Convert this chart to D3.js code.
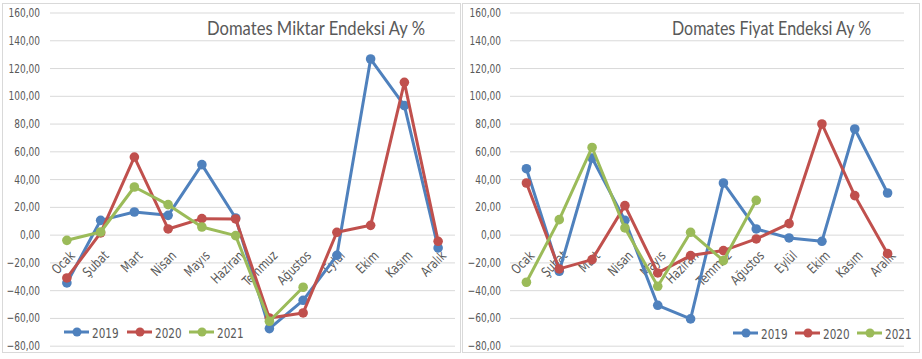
<!DOCTYPE html>
<html><head><meta charset="utf-8">
<script src="https://cdn.jsdelivr.net/npm/d3@7"></script>
<style>
html,body{margin:0;padding:0;background:#fff;}
svg{display:block;}
text{font-family:"DejaVu Sans Condensed","DejaVu Sans",sans-serif;fill:#595959;}
</style></head>
<body>
<svg id="chart" width="922" height="359"></svg>
<script>
const months = ["Ocak","Şubat","Mart","Nisan","Mayıs","Haziran","Temmuz","Ağustos","Eylül","Ekim","Kasım","Aralık"];
const yTicks = [160,140,120,100,80,60,40,20,0,-20,-40,-60,-80];
const years = ["2019","2020","2021"];
const colors = ["#4F81BD","#C0504D","#9BBB59"];

const miktar2019 = [-34.8,10.3,16.3,13.9,50.4,12.0,-67.7,-47.3,-14.9,126.5,92.9,-9.6];
const miktar2020 = [-31.2,1.2,55.9,4.1,11.5,11.3,-60.0,-56.4,1.7,6.7,109.7,-4.8];
const miktar2021 = [-4.1,1.9,34.3,21.6,5.5,-0.7,-62.4,-37.9];

const fiyat2019 = [47.5,-26.4,55.2,10.3,-50.9,-60.7,37.2,4.1,-2.4,-4.8,76.1,30.0];
const fiyat2020 = [37.2,-24.7,-18.0,20.9,-27.6,-15.1,-11.5,-3.1,7.9,79.7,28.1,-13.7];
const fiyat2021 = [-34.3,10.8,62.8,4.8,-37.2,1.7,-18.7,24.7];

const titles = ["Domates Miktar Endeksi Ay  %","Domates Fiyat Endeksi Ay %"];

const svg = d3.select("#chart");
const fmt = v => d3.format(".2f")(v).replace(".", ",");

function squeeze(sel, f){
  sel.each(function(){
    const len = this.getComputedTextLength();
    d3.select(this).attr("textLength", len*f).attr("lengthAdjust","spacingAndGlyphs");
  });
}

function drawChart(o){
  const g = svg.append("g");
  g.append("rect").attr("x",o.frame[0]+0.5).attr("y",3.5)
    .attr("width",o.frame[1]-o.frame[0]).attr("height",349)
    .attr("fill","#fff").attr("stroke","#d9d9d9").attr("stroke-width",1);
  const x = d3.scalePoint().domain(months).range([o.x0,o.x1]).padding(0.5);
  const y = d3.scaleLinear().domain([-80,160]).range([345.7,12.5]);
  const yAxis = d3.axisLeft(y).tickValues(yTicks).tickSize(-(o.x1-o.x0)).tickFormat(fmt).tickPadding(o.pad);
  const ya = g.append("g").attr("transform",`translate(${o.x0},0)`).call(yAxis);
  ya.select(".domain").remove();
  ya.selectAll(".tick line").attr("stroke","#d9d9d9");
  const tt = ya.selectAll(".tick text").attr("font-size","12.5px").attr("fill","#595959")
    .style("font-family",'"DejaVu Sans Condensed",sans-serif');
  squeeze(tt, 0.8);
  // title
  g.append("text").attr("x",o.title[0]).attr("y",35).attr("font-size","20px")
    .style("font-family",'Lato,"Open Sans",sans-serif').attr("font-weight",400)
    .attr("textLength",o.title[1]).attr("lengthAdjust","spacingAndGlyphs")
    .text(o.titleText);
  // category labels
  const y0 = y(0);
  const xa = g.append("g");
  const cl = xa.selectAll("text").data(months).join("text")
    .attr("transform",d=>`translate(${x(d)+2},${y0+15}) rotate(-45)`)
    .attr("text-anchor","end").attr("dy","0.72em")
    .attr("font-size","13.5px").text(d=>d);
  squeeze(cl, 0.85);
  // series
  const line = d3.line().x((d,i)=>x(months[i])).y(d=>y(d));
  o.series.forEach((s,k)=>{
    const sg = g.append("g");
    sg.append("path").datum(s).attr("d",line).attr("fill","none")
      .attr("stroke",colors[k]).attr("stroke-width",3).attr("stroke-linejoin","round");
    sg.selectAll("circle").data(s).join("circle")
      .attr("cx",(d,i)=>x(months[i])).attr("cy",d=>y(d)).attr("r",4.8).attr("fill",colors[k]);
  });
  // legend
  const lg = g.append("g");
  years.forEach((yr,k)=>{
    const m = o.legend[k];
    lg.append("line").attr("x1",m-13).attr("x2",m+12).attr("y1",o.ly).attr("y2",o.ly)
      .attr("stroke",colors[k]).attr("stroke-width",3);
    lg.append("circle").attr("cx",m).attr("cy",o.ly).attr("r",4.5).attr("fill",colors[k]);
    const t = lg.append("text").attr("x",m+15).attr("y",o.ly+5.5).attr("font-size","14.5px").text(yr);
    squeeze(t, 0.8);
  });
}

drawChart({frame:[2,460], x0:50, x1:455, pad:10, title:[207,218], titleText:titles[0],
  series:[miktar2019,miktar2020,miktar2021], legend:[77,140,202], ly:332});
drawChart({frame:[462,919], x0:510, x1:904, pad:9, title:[672,199], titleText:titles[1],
  series:[fiyat2019,fiyat2020,fiyat2021], legend:[746,808,870], ly:333});
</script>
</body></html>
